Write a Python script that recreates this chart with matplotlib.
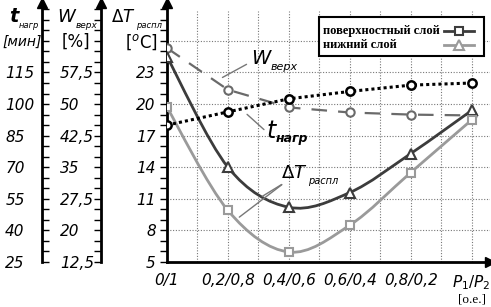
import numpy as np
import matplotlib.pyplot as plt
from matplotlib.path import Path
from matplotlib.patches import PathPatch, Rectangle
from matplotlib.lines import Line2D
from matplotlib.ticker import MultipleLocator

# данные
x = [0.0, 0.2, 0.4, 0.6, 0.8, 1.0]
xlabels = ['0/1', '0,2/0,8', '0,4/0,6', '0,6/0,4', '0,8/0,2', '$P_1/P_2$']
dT_dark = [24.5, 14.0, 10.2, 11.6, 15.3, 19.4]   # треугольники
dT_light = [19.7, 9.9, 5.95, 8.5, 13.5, 18.5]    # квадраты
t_heat = [90, 96.3, 102.5, 106, 109, 110]        # мин
w_top = [63.3, 53.4, 49.2, 48.0, 47.5, 47.3]     # %
legend_labels = ['поверхностный слой', 'нижний слой']

W_PX, H_PX = 491, 307
fig = plt.figure(figsize=(4.91, 3.07), dpi=100)


def rect(x0, x1, ytop, ybot):
    return [x0 / W_PX, 1 - ybot / H_PX, (x1 - x0) / W_PX, (ybot - ytop) / H_PX]


def fx(px):
    return px / W_PX


def fy(py):
    return 1 - py / H_PX


def smooth_path(xs, ys):
    p = np.column_stack([xs, ys])
    n = len(p)
    verts = [p[0]]
    codes = [Path.MOVETO]
    for i in range(n - 1):
        p0 = p[i - 1] if i > 0 else p[i]
        p3 = p[i + 2] if i + 2 < n else p[i + 1]
        c1 = p[i] + (p[i + 1] - p0) / 6
        c2 = p[i + 1] - (p3 - p[i]) / 6
        verts += [c1, c2, p[i + 1]]
        codes += [Path.CURVE4] * 3
    return Path(verts, codes)


ax = fig.add_axes(rect(167, 490, 3, 262))
ax.set_xlim(0, 1.06)
ax.set_ylim(5, 29.6)
for s in ['top', 'right']:
    ax.spines[s].set_visible(False)
for s in ['left', 'bottom']:
    ax.spines[s].set_linewidth(2)
ax.plot(0, 1, '^k', ms=7, transform=ax.transAxes, clip_on=False)
ax.plot(1, 0, '>k', ms=7, transform=ax.transAxes, clip_on=False)

# сетка
for xv in np.arange(0.1, 1.01, 0.1):
    ax.axvline(xv, ymax=0.97, color='#777777', ls=(0, (1, 1.5)), lw=0.8, zorder=0)
for yv in range(8, 27, 3):
    ax.axhline(yv, color='#777777', ls=(0, (1, 1.5)), lw=0.8, zorder=0)

ax.yaxis.set_minor_locator(MultipleLocator(1))
ax.set_yticks(range(5, 24, 3))
ax.tick_params(axis='y', which='both', direction='out', length=5, width=1, pad=3,
               labelsize=11)
for lbl in ax.get_yticklabels():
    lbl.set_fontstyle('italic')
ax.set_xticks(x)
ax.set_xticklabels(xlabels, fontsize=11, fontstyle='italic')
ax.tick_params(axis='x', length=0, pad=8)
last = ax.get_xticklabels()[-1]
last.set_family('Liberation Serif')
last.set_fontsize(11)
ax.text(1.0, -0.12, '[o.e.]', transform=ax.get_xaxis_transform(), ha='center',
        va='top', fontsize=9.5, family='Liberation Serif')

# кривые ΔT
ax.add_patch(PathPatch(smooth_path(x, dT_dark), fill=False, ec='#3c3c3c', lw=2, zorder=3))
ax.add_patch(PathPatch(smooth_path(x, dT_light), fill=False, ec='#9a9a9a', lw=2, zorder=3))
ax.plot(x, dT_dark, ls='none', marker='^', ms=7, mfc='white', mec='#3c3c3c', mew=1.5, zorder=4)
ax.plot(x, dT_light, ls='none', marker='s', ms=6, mfc='white', mec='#9a9a9a', mew=1.5, zorder=4)

# t и W в масштабе оси ΔT
t_to_dT = np.array(t_heat) / 5
w_to_dT = np.array(w_top) / 2.5
ax.plot(x, w_to_dT, color='#6a6a6a', lw=1.6, ls=(0, (7, 5)), marker='o', ms=6,
        mfc='white', mec='#6a6a6a', mew=1.5, zorder=3)
ax.plot(x, t_to_dT, color='black', lw=2.2, ls=(0, (1, 1)), marker='o', ms=6,
        mfc='white', mec='black', mew=1.8, zorder=3)

# подписи кривых
lead = dict(arrowstyle='-', color='#777777', lw=1)
ax.annotate('', xy=(0.174, 22.4), xytext=(0.269, 23.9), arrowprops=lead)
ax.annotate('', xy=(0.256, 19.2), xytext=(0.325, 17.4), arrowprops=lead)
ax.annotate('', xy=(0.305, 11.1), xytext=(0.384, 12.5), arrowprops=lead)
ax.annotate('', xy=(0.23, 9.1), xytext=(0.384, 12.5), arrowprops=lead)


def sub_text(x0, y0, base, sub, size, subsize, transform, base_kw=None, sub_kw=None,
             dy=-2):
    base_kw = base_kw or {}
    sub_kw = sub_kw or {}
    b = ax.text(x0, y0, base, transform=transform, fontsize=size, ha='left',
                va='center', **base_kw)
    ax.annotate(sub, xy=(1, 0.2), xycoords=b, xytext=(0.5, dy),
                textcoords='offset points', fontsize=subsize, ha='left', va='center',
                annotation_clip=False, **sub_kw)
    return b


sub_text(0.275, 24.3, 'W', 'верх', 14, 8, ax.transData,
         base_kw=dict(fontstyle='italic'), sub_kw=dict(fontstyle='italic'))
sub_text(0.325, 17.4, 't', 'нагр', 17, 9, ax.transData,
         base_kw=dict(fontstyle='italic'),
         sub_kw=dict(fontstyle='italic', fontweight='bold'), dy=0)
sub_text(0.375, 13.5, 'Δ$T$', 'распл', 13, 7, ax.transData,
         sub_kw=dict(fontstyle='italic'))

# легенда (рамка и строки вручную, текст слева, маркер справа)
ax.add_patch(Rectangle((fx(319), fy(56)), fx(484 - 319), fy(17) - fy(56),
                       transform=fig.transFigure, fc='white', ec='black', lw=1.5,
                       zorder=6, clip_on=False))
legend_style = [dict(color='#3c3c3c', marker='s', ms=5.5),
                dict(color='#9a9a9a', marker='^', ms=6.5)]
for row, (lab, st) in enumerate(zip(legend_labels, legend_style)):
    yy = fy(31 + 14 * row)
    ax.text(fx(323), yy, lab, transform=fig.transFigure, va='center', ha='left',
            family='Liberation Serif', fontweight='bold', fontsize=9, zorder=7)
    ax.add_line(Line2D([fx(444), fx(474)], [yy, yy], transform=fig.transFigure,
                       color=st['color'], lw=2, zorder=7, clip_on=False))
    ax.add_line(Line2D([fx(459)], [yy], transform=fig.transFigure, ls='none',
                       marker=st['marker'], ms=st['ms'], mfc='white', mec=st['color'],
                       mew=1.5, zorder=8, clip_on=False))

# левые оси
ax_t = fig.add_axes(rect(42, 43, 3, 262))
ax_t.set_ylim(25, 148)
ax_W = fig.add_axes(rect(101, 102, 3, 262))
ax_W.set_ylim(12.5, 74)
for a, minor, direction, pad in [(ax_t, 5, 'in', 26.5), (ax_W, 2.5, 'out', 24.5)]:
    for s in ['top', 'right', 'bottom']:
        a.spines[s].set_visible(False)
    a.spines['left'].set_linewidth(2)
    a.patch.set_visible(False)
    a.set_xticks([])
    a.yaxis.set_minor_locator(MultipleLocator(minor))
    a.tick_params(axis='y', which='both', direction=direction, length=5, width=1,
                  pad=pad, labelsize=11)
    a.plot(0, 1, '^k', ms=7, transform=a.transAxes, clip_on=False)
ax_t.set_yticks(np.arange(25, 116, 15))
ax_t.set_yticklabels([str(v) for v in range(25, 116, 15)])
ax_W.set_yticks(np.arange(12.5, 58, 7.5))
ax_W.set_yticklabels(['12,5', '20', '27,5', '35', '42,5', '50', '57,5'])
for a in [ax_t, ax_W]:
    for lbl in a.get_yticklabels():
        lbl.set_ha('left')
        lbl.set_fontstyle('italic')

# заголовки осей
sub_text(fx(9), fy(17), 't', 'нагр', 14, 6, fig.transFigure,
         base_kw=dict(fontstyle='italic', fontweight='bold'),
         sub_kw=dict(fontstyle='italic'))
fig.text(fx(2), fy(42), '[мин]', fontsize=10, fontstyle='italic', va='center')
sub_text(fx(57), fy(17), 'W', 'верх', 13, 6.5, fig.transFigure,
         base_kw=dict(fontstyle='italic'), sub_kw=dict(fontstyle='italic'))
fig.text(fx(62), fy(42), '[%]', fontsize=12, va='center')
sub_text(fx(111), fy(17), 'Δ$T$', 'распл', 12, 6, fig.transFigure,
         sub_kw=dict(fontstyle='italic'))
fig.text(fx(125), fy(42), '[$^o$C]', fontsize=12, va='center')

fig.savefig('out.png', dpi=100)
